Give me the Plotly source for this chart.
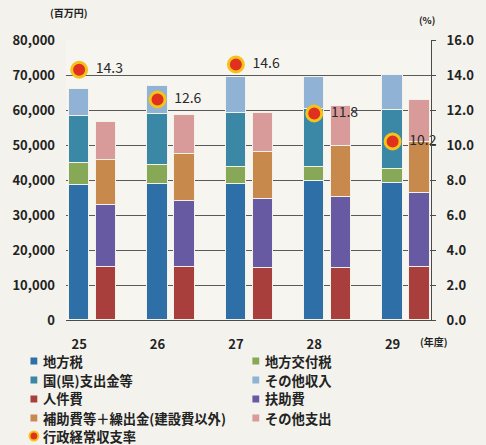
import numpy as np
import plotly.graph_objects as go

# 年度（平成）
years = ["25", "26", "27", "28", "29"]

# 歳入（百万円）
chihouzei = [38600, 38900, 38800, 39700, 39100]
koufuzei = [6200, 5400, 5000, 4100, 4000]
shishutsukin = [13500, 14500, 15400, 16400, 16900]
sonota_shunyu = [7600, 8100, 10300, 9300, 9900]

# 歳出（百万円）
jinkenhi = [15200, 15200, 15000, 15000, 15200]
fujohi = [17700, 18800, 19500, 20200, 21200]
hojohi = [12800, 13400, 13600, 14500, 14600]
sonota_shishutsu = [11000, 11200, 11000, 11400, 12000]

# 行政経常収支率（%）
ratio = [14.3, 12.6, 14.6, 11.8, 10.2]

FONT = "Noto Sans CJK JP"
W, H = 486, 445
ML, MR, MT, MB = 60, 51, 40, 125
PW, PH = W - ML - MR, H - MT - MB

idx = np.arange(len(years))
rev_x = idx
exp_x = idx + 0.342
BAR_W = 0.26

revenue = [
    ("地方税", chihouzei, "#2e6fa7"),
    ("地方交付税", koufuzei, "#86a857"),
    ("国(県)支出金等", shishutsukin, "#3b87a6"),
    ("その他収入", sonota_shunyu, "#8fb2d5"),
]
expense = [
    ("人件費", jinkenhi, "#a83f3d"),
    ("扶助費", fujohi, "#675aa3"),
    ("補助費等＋繰出金(建設費以外)", hojohi, "#c88a4c"),
    ("その他支出", sonota_shishutsu, "#d99b9a"),
]
RATIO_NAME = "行政経常収支率"
RATIO_FILL, RATIO_RING = "#e0301e", "#f5c21b"

fig = go.Figure()

for group, xs in ((revenue, rev_x), (expense, exp_x)):
    for name, vals, color in group:
        fig.add_trace(go.Bar(
            x=xs, y=vals, name=name, width=BAR_W,
            marker=dict(color=color, line=dict(color="#f4f1e8", width=1)),
            yaxis="y", showlegend=False,
        ))

fig.add_trace(go.Scatter(
    x=rev_x, y=ratio, yaxis="y2", name=RATIO_NAME,
    mode="markers+text", cliponaxis=False, showlegend=False,
    marker=dict(size=15, color=RATIO_FILL, line=dict(color=RATIO_RING, width=3)),
    texttemplate="  %{y:.1f}", textposition="middle right",
    textfont=dict(family=FONT, size=14, color="#2a2a2a"),
))


def px_x(px):
    return (px - ML) / PW


def px_y(py):
    return (MT + PH - py) / PH


# two-column key below the chart
legend_items = [
    (revenue[0][0], revenue[0][2]), (revenue[1][0], revenue[1][2]),
    (revenue[2][0], revenue[2][2]), (revenue[3][0], revenue[3][2]),
    (expense[0][0], expense[0][2]), (expense[1][0], expense[1][2]),
    (expense[2][0], expense[2][2]), (expense[3][0], expense[3][2]),
]
row_y = [361, 380, 399, 418, 436]
col_x = [27, 255]
KEY_FONT = dict(family=FONT, size=13.3, color="#222222", weight="bold")
shapes, annotations = [], []
for k, (name, color) in enumerate(legend_items):
    cx, cy = col_x[k % 2], row_y[k // 2]
    shapes.append(dict(
        type="rect", xref="paper", yref="paper",
        x0=px_x(cx - 3.5), x1=px_x(cx + 3.5), y0=px_y(cy + 3.5), y1=px_y(cy - 3.5),
        fillcolor=color, line=dict(width=0),
    ))
    annotations.append(dict(
        text=name, xref="paper", yref="paper", x=px_x(cx + 7), y=px_y(cy),
        xanchor="left", yanchor="middle", showarrow=False, font=KEY_FONT,
    ))
cx, cy = col_x[0], row_y[4]
shapes.append(dict(
    type="circle", xref="paper", yref="paper",
    x0=px_x(cx - 4.5), x1=px_x(cx + 4.5), y0=px_y(cy + 4.5), y1=px_y(cy - 4.5),
    fillcolor=RATIO_FILL, line=dict(color=RATIO_RING, width=2),
))
annotations.append(dict(
    text=RATIO_NAME, xref="paper", yref="paper", x=px_x(cx + 7), y=px_y(cy),
    xanchor="left", yanchor="middle", showarrow=False, font=KEY_FONT,
))

# unit labels
annotations += [
    dict(text="(百万円)", xref="paper", yref="paper", x=px_x(63), y=px_y(13),
         xanchor="center", yanchor="middle", showarrow=False,
         font=dict(family=FONT, size=10, weight="bold")),
    dict(text="(%)", xref="paper", yref="paper", x=px_x(431), y=px_y(20),
         xanchor="center", yanchor="middle", showarrow=False,
         font=dict(family=FONT, size=9.5, weight="bold")),
    dict(text="(年度)", xref="paper", yref="paper", x=px_x(438), y=px_y(341),
         xanchor="center", yanchor="middle", showarrow=False,
         font=dict(family=FONT, size=10, weight="bold")),
]

fig.update_layout(
    width=W, height=H,
    margin=dict(l=ML, r=MR, t=MT, b=MB),
    paper_bgcolor="#f3f2ec", plot_bgcolor="#f6f5f0",
    barmode="stack", bargap=0,
    font=dict(family=FONT, size=13, color="#222222"),
    showlegend=False,
    xaxis=dict(
        range=[-0.168, 4.49], tickvals=rev_x, ticktext=years,
        showgrid=False, zeroline=False, showline=True, linecolor="#4a4a4a",
        linewidth=1, ticks="", ticklabelstandoff=12,
        tickfont=dict(family=FONT, size=13, weight="bold"),
    ),
    yaxis=dict(
        range=[0, 80000], dtick=10000, tickformat=",",
        showgrid=True, gridcolor="#5a5a5a", gridwidth=1,
        zeroline=False, showline=False, ticks="", ticklabelstandoff=10,
        tickfont=dict(family=FONT, size=13, weight="bold"),
    ),
    yaxis2=dict(
        range=[0, 16], dtick=2, tickformat=".1f", overlaying="y", side="right",
        showgrid=False, zeroline=False, showline=True, linecolor="#4a4a4a",
        ticks="outside", ticklen=4, tickcolor="#4a4a4a", ticklabelstandoff=8,
        tickfont=dict(family=FONT, size=13, weight="bold"),
    ),
    shapes=shapes,
    annotations=annotations,
)

fig.write_html("out.html")
